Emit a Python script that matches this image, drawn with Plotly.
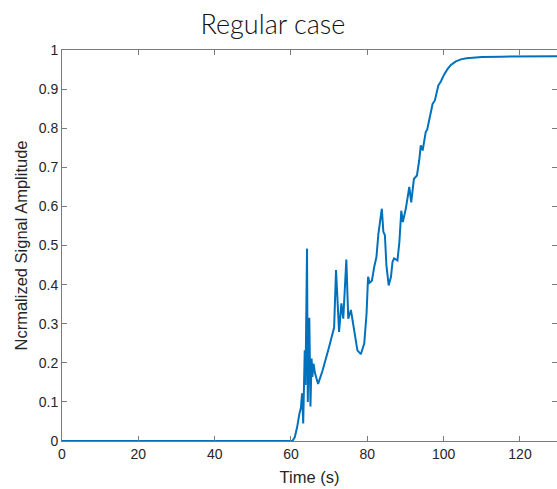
import plotly.graph_objects as go

time_s = [0, 60.4, 61.0, 61.6, 62.2, 62.6, 62.9, 63.2, 63.6, 63.8, 64.2, 64.4, 64.8, 65.1,
          65.4, 65.6, 65.9, 66.3, 67.1, 68.3, 70.0, 70.9, 71.3, 71.8, 72.2, 72.6, 73.2,
          73.7, 74.5, 75.0, 75.7, 76.6, 77.4, 78.3, 79.2, 79.8, 80.2, 80.6, 81.2, 81.8,
          82.4, 82.9, 83.5, 83.8, 84.2, 84.6, 85.0, 85.6, 86.2, 86.6, 87.0, 87.9, 88.4,
          88.9, 89.3, 90.1, 91.0, 91.5, 92.2, 93.0, 93.6, 94.0, 94.5, 94.9, 95.3, 95.7,
          96.2, 96.6, 97.1, 97.7, 98.2, 98.6, 99.3, 100.1, 101.0, 101.9, 103.2, 104.5,
          106.0, 108.0, 110.0, 115.0, 120.0, 125.0, 130.0]
amplitude = [0, 0, 0.01, 0.035, 0.07, 0.085, 0.122, 0.045, 0.232, 0.143, 0.492, 0.10, 0.315,
             0.088, 0.211, 0.164, 0.198, 0.173, 0.146, 0.181, 0.241, 0.271, 0.29, 0.437,
             0.369, 0.279, 0.352, 0.313, 0.464, 0.313, 0.335, 0.28, 0.232, 0.222, 0.25,
             0.326, 0.42, 0.405, 0.41, 0.445, 0.471, 0.53, 0.573, 0.594, 0.535, 0.527,
             0.45, 0.398, 0.42, 0.458, 0.467, 0.462, 0.509, 0.589, 0.56, 0.595, 0.65,
             0.61, 0.67, 0.679, 0.718, 0.756, 0.743, 0.769, 0.79, 0.797, 0.82, 0.835,
             0.862, 0.871, 0.895, 0.909, 0.92, 0.937, 0.951, 0.962, 0.971, 0.976, 0.979,
             0.981, 0.982, 0.983, 0.983, 0.984, 0.984]

x_ticks = [0, 20, 40, 60, 80, 100, 120]
y_ticks = [0, 0.1, 0.2, 0.3, 0.4, 0.5, 0.6, 0.7, 0.8, 0.9, 1]
y_ticklabels = ["0", "0.1", "0.2", "0.3", "0.4", "0.5", "0.6", "0.7", "0.8", "0.9", "1"]

axis_col = "#7a7a7a"
font_fam = "Liberation Sans, Arial, sans-serif"

fig = go.Figure()
fig.add_trace(go.Scatter(x=time_s, y=amplitude, mode="lines",
                         line=dict(color="#0072BD", width=2), showlegend=False))
# invisible trace for right-side ticks
fig.add_trace(go.Scatter(x=[0], y=[0], yaxis="y2", mode="none", showlegend=False,
                         hoverinfo="skip"))

fig.update_layout(
    width=557, height=489,
    margin=dict(l=62, r=0, t=50, b=48),
    paper_bgcolor="white", plot_bgcolor="white",
    title=dict(text="Regular case", x=0.49, xref="container", xanchor="center",
               y=0.95, yref="container", yanchor="middle",
               font=dict(family="Lato, Roboto, sans-serif", size=27, color="#111111",
                         weight=300)),
    xaxis=dict(range=[0, 129.7], tickvals=x_ticks, ticktext=[str(t) for t in x_ticks],
               ticks="inside", ticklen=5, tickcolor=axis_col, showline=True,
               linecolor=axis_col, linewidth=1, mirror="ticks", showgrid=False,
               zeroline=False, tickfont=dict(family=font_fam, size=14, color="#262626"),
               title=dict(text="Time (s)", standoff=10,
                          font=dict(family=font_fam, size=16.5, color="#262626"))),
    yaxis=dict(range=[0, 1], tickvals=y_ticks, ticktext=y_ticklabels,
               ticks="inside", ticklen=5, tickcolor=axis_col, showline=True,
               linecolor=axis_col, linewidth=1, showgrid=False, zeroline=False,
               tickfont=dict(family=font_fam, size=14, color="#262626"),
               title=dict(text="Ncrmalized Signal Amplitude", standoff=6,
                          font=dict(family=font_fam, size=16.5, color="#262626"))),
    yaxis2=dict(range=[0, 1], tickvals=y_ticks, overlaying="y", side="right", anchor="x",
                ticks="inside", ticklen=5, tickcolor=axis_col, showline=False,
                showgrid=False, zeroline=False, showticklabels=False),
)

fig.write_html("out.html")
